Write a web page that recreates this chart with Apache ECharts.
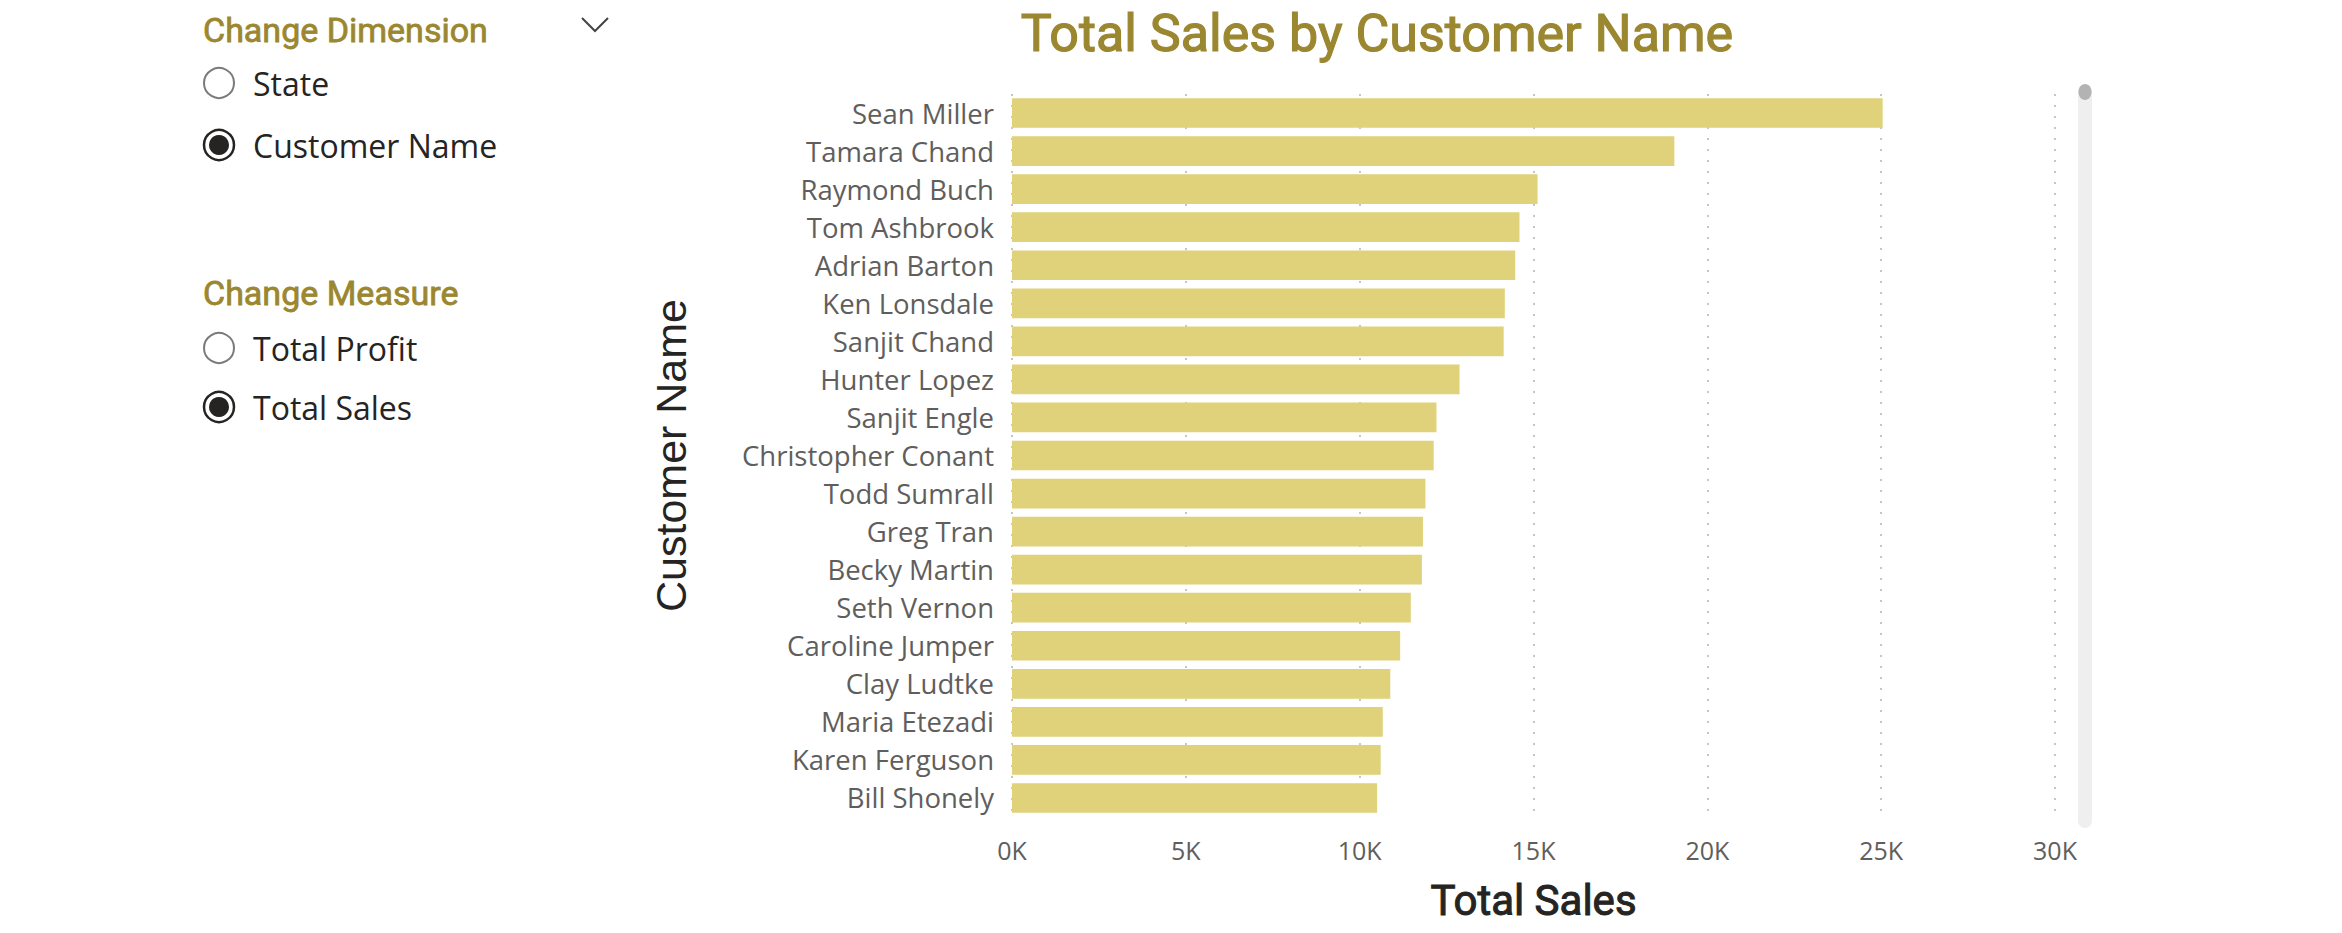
<!DOCTYPE html>
<html lang="en">

<head>
    <meta charset="UTF-8">
    <title>Total Sales by Customer Name</title>
    <style>
        html, body { margin: 0; padding: 0; background: #fff; }
        #main { width: 2342px; height: 933px; }
    </style>
</head>

<body>
    <div id="main"></div>
</body>
<script src="https://cdn.jsdelivr.net/npm/echarts@6/dist/echarts.min.js"></script>
<script>
    // data
    const customers = [
        'Sean Miller', 'Tamara Chand', 'Raymond Buch', 'Tom Ashbrook', 'Adrian Barton',
        'Ken Lonsdale', 'Sanjit Chand', 'Hunter Lopez', 'Sanjit Engle', 'Christopher Conant',
        'Todd Sumrall', 'Greg Tran', 'Becky Martin', 'Seth Vernon', 'Caroline Jumper',
        'Clay Ludtke', 'Maria Etezadi', 'Karen Ferguson', 'Bill Shonely'
    ]
    const totalSales = [
        25043, 19052, 15117, 14596, 14474,
        14175, 14142, 12873, 12209, 12129,
        11892, 11820, 11790, 11471, 11165,
        10880, 10664, 10604, 10502
    ]
    const xTicks = { min: 0, max: 30000, step: 5000 }

    const dimensionOptions = ['State', 'Customer Name']
    const measureOptions = ['Total Profit', 'Total Sales']
    const selectedDimension = 'Customer Name'
    const selectedMeasure = 'Total Sales'

    const GOLD = '#9B8730'
    const DARK = '#252423'
    const DIN = 'DIN, Roboto, sans-serif'
    const SEGOE = '"Segoe UI", "Open Sans", sans-serif'

    // slicer panel on the left, drawn as graphic elements
    function radio(label, y, checked) {
        const els = [{
            type: 'circle',
            shape: { cx: 219, cy: y, r: 15 },
            style: { fill: '#fff', stroke: checked ? DARK : '#7a7a7a', lineWidth: checked ? 2.5 : 2 }
        }, {
            type: 'text',
            x: 253, y: y,
            style: { text: label, font: `32px ${SEGOE}`, fill: DARK, verticalAlign: 'middle' }
        }]
        if (checked) {
            els.push({ type: 'circle', shape: { cx: 219, cy: y, r: 10 }, style: { fill: DARK } })
        }
        return els
    }

    function slicer(title, titleY, items, selected, firstY, step) {
        let els = [{
            type: 'text',
            x: 203, y: titleY,
            style: {
                text: title, font: `34px ${DIN}`, fill: GOLD, verticalAlign: 'middle',
                stroke: GOLD, lineWidth: 0.8
            }
        }]
        items.forEach((name, i) => {
            els = els.concat(radio(name, firstY + i * step, name === selected))
        })
        return els
    }

    const panel = []
        .concat(slicer('Change Dimension', 30, dimensionOptions, selectedDimension, 83, 62))
        .concat(slicer('Change Measure', 293, measureOptions, selectedMeasure, 348, 59))

    panel.push({
        type: 'polyline',
        shape: { points: [[582, 18], [595, 31], [608, 18]] },
        style: { stroke: '#444', lineWidth: 2, fill: null }
    })

    // scroll bar at the right of the visual
    const scrollbar = [{
        type: 'rect',
        shape: { x: 2078, y: 84, width: 14, height: 744, r: 7 },
        style: { fill: '#EFEFEF' }
    }, {
        type: 'ellipse',
        shape: { cx: 2085, cy: 92, rx: 6.5, ry: 8 },
        style: { fill: '#B3B3B3' }
    }]

    const chart = echarts.init(document.getElementById('main'), null, { renderer: 'svg' })

    chart.setOption({
        animation: false,
        title: {
            text: 'Total Sales by Customer Name',
            left: 1372,
            top: 28,
            textAlign: 'center',
            textVerticalAlign: 'middle',
            textStyle: {
                fontFamily: DIN, fontSize: 52, fontWeight: 'normal', color: GOLD,
                textBorderColor: GOLD, textBorderWidth: 1.2
            }
        },
        grid: {
            left: 1012,
            right: 287,
            top: 94,
            bottom: 116
        },
        xAxis: {
            type: 'value',
            min: xTicks.min,
            max: xTicks.max,
            interval: xTicks.step,
            name: 'Total Sales',
            nameLocation: 'middle',
            nameGap: 62,
            nameTextStyle: {
                fontFamily: DIN, fontSize: 42, fontWeight: 'normal', color: DARK,
                textBorderColor: DARK, textBorderWidth: 1
            },
            axisLine: { show: false },
            axisTick: { show: false },
            axisLabel: {
                formatter: v => (v / 1000) + 'K',
                fontFamily: SEGOE,
                fontSize: 25,
                color: '#605E5C',
                margin: 20
            },
            splitLine: {
                show: true,
                lineStyle: { color: '#C8C6C4', width: 2, type: [2, 9] }
            }
        },
        yAxis: {
            type: 'category',
            data: customers,
            inverse: true,
            name: 'Customer Name',
            nameLocation: 'middle',
            nameGap: 320,
            nameTextStyle: { fontFamily: '"Liberation Sans", Arial, sans-serif', fontSize: 43, color: DARK },
            axisLine: { show: false },
            axisTick: { show: false },
            axisLabel: {
                fontFamily: SEGOE,
                fontSize: 27.5,
                color: '#605E5C',
                margin: 18
            }
        },
        series: [{
            name: 'Total Sales',
            type: 'bar',
            data: totalSales,
            barCategoryGap: '22%',
            itemStyle: { color: '#DFD27A' }
        }],
        graphic: panel.concat(scrollbar)
    })
</script>

</html>
